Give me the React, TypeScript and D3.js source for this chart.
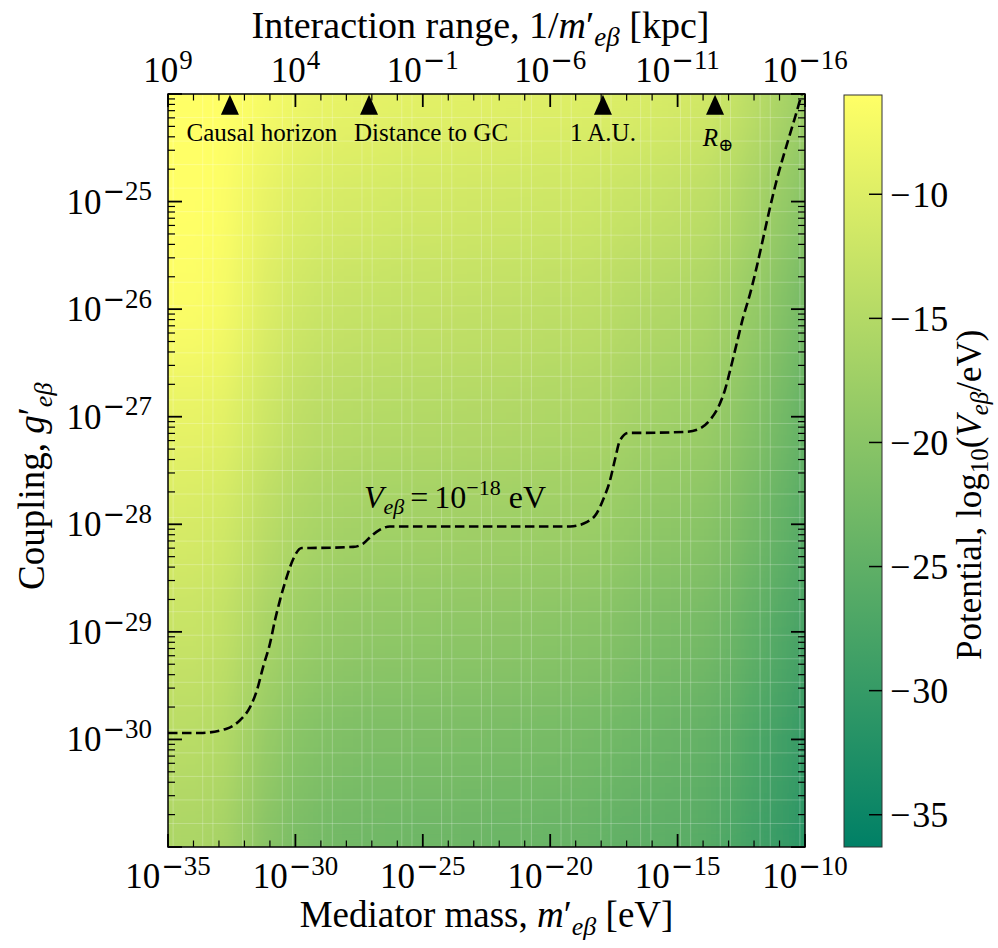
import React from "react";
import * as d3 from "d3";

// heat map grid: columns = log10 mediator mass [eV], rows = log10 coupling
const massExp = [-35, -34, -33, -32, -31, -30, -29, -28, -27, -26, -25, -24, -23, -22, -21, -20, -19, -18, -17, -16, -15, -14, -13, -12, -11, -10];
const couplingExp = [-24, -25, -26, -27, -28, -29, -30, -31];

// log10(V / eV), one row per coupling decade
const row24 = [-6.0, -6.0, -6.0, -6.3, -7.2, -8.0, -8.5, -8.8, -9.0, -9.2, -9.3, -9.4, -9.5, -9.6, -9.7, -9.8, -9.9, -10.0, -10.3, -10.6, -10.9, -11.4, -12.5, -14.1, -15.9, -17.8];
const row25 = [-6.0, -6.0, -6.2, -7.6, -9.0, -10.0, -10.6, -10.9, -11.1, -11.3, -11.4, -11.5, -11.6, -11.7, -11.8, -11.9, -12.0, -12.2, -12.6, -13.0, -13.3, -13.8, -14.9, -16.5, -18.3, -20.1];
const row26 = [-6.4, -6.5, -6.9, -8.6, -10.4, -11.7, -12.4, -12.8, -13.0, -13.1, -13.2, -13.3, -13.4, -13.5, -13.6, -13.8, -13.9, -14.1, -14.7, -15.2, -15.5, -16.0, -17.1, -18.7, -20.5, -22.4];
const row27 = [-8.8, -8.9, -9.2, -10.6, -12.2, -13.5, -14.2, -14.6, -14.8, -14.9, -15.0, -15.1, -15.2, -15.3, -15.4, -15.6, -15.7, -15.9, -16.6, -17.2, -17.5, -17.9, -19.0, -20.6, -22.4, -24.3];
const row28 = [-10.8, -10.9, -11.3, -12.7, -14.3, -15.6, -16.3, -16.7, -16.9, -17.0, -17.1, -17.2, -17.3, -17.4, -17.5, -17.7, -17.8, -18.0, -18.7, -19.3, -19.6, -20.0, -21.0, -22.6, -24.3, -26.0];
const row29 = [-12.6, -12.7, -13.2, -14.8, -16.6, -17.9, -18.6, -19.0, -19.2, -19.3, -19.4, -19.5, -19.6, -19.7, -19.8, -20.0, -20.2, -20.4, -21.0, -21.6, -21.9, -22.3, -23.3, -24.8, -26.4, -28.0];
const row30 = [-14.3, -14.4, -14.9, -16.7, -18.7, -20.1, -20.8, -21.2, -21.4, -21.5, -21.6, -21.7, -21.8, -21.9, -22.0, -22.2, -22.4, -22.7, -23.2, -23.7, -24.0, -24.5, -25.5, -27.0, -28.5, -30.0];
const row31 = [-15.9, -16.0, -16.5, -18.4, -20.4, -21.8, -22.5, -22.9, -23.1, -23.2, -23.3, -23.4, -23.5, -23.6, -23.7, -23.9, -24.1, -24.4, -24.9, -25.3, -25.5, -26.0, -27.0, -28.4, -29.8, -31.2];
const potentialRows = [row24, row25, row26, row27, row28, row29, row30, row31];

// V = 1e-18 eV contour (log10 mass, log10 coupling)
const contourLogMass = [-35.0, -33.74, -32.7, -32.17, -31.78, -31.52, -31.26, -31.0, -30.8, -30.6, -30.34, -30.08, -29.75, -29.43, -27.73, -27.34, -27.07, -26.68, -26.29, -19.22, -18.57, -18.18, -17.92, -17.65, -17.46, -17.26, -16.93, -16.48, -14.64, -14.12, -13.73, -13.4, -13.14, -12.94, -12.68, -12.42, -12.23, -11.11, -10.2, -10.0];
const contourLogCoupling = [-29.94, -29.94, -29.9, -29.82, -29.7, -29.55, -29.32, -29.11, -28.89, -28.7, -28.49, -28.32, -28.22, -28.22, -28.21, -28.18, -28.12, -28.05, -28.02, -28.02, -27.98, -27.9, -27.77, -27.59, -27.4, -27.22, -27.15, -27.15, -27.14, -27.11, -27.03, -26.91, -26.75, -26.57, -26.32, -26.07, -25.92, -24.8, -24.06, -23.89];

// distance markers along the top
const markerNames = ["Causal horizon", "Distance to GC", "1 A.U.", "R"];
const markerLogMass = [-32.57, -27.11, -17.93, -13.53];
const markerLogCoupling = -24.1;

const massMajor = [-35, -30, -25, -20, -15, -10];
const rangeMajor = [9, 4, -1, -6, -11, -16];
const couplingLabelled = [-30, -29, -28, -27, -26, -25];
const colorTicks = [-10, -15, -20, -25, -30, -35];
const colorDomain = [-36.3, -6.0];

const W = 998, H = 948;
const L = 168, R = 805, T = 94, B = 847;
const CB = { x: 844, w: 38, top: 95, bottom: 847 };
const FONT = "'Liberation Serif', 'DejaVu Serif', serif";
const MINUS = "\u2212";

function summer(v: number) {
  const t = Math.max(0, Math.min(1, (v - colorDomain[0]) / (colorDomain[1] - colorDomain[0])));
  return d3.rgb(255 * t, 255 * (0.5 + 0.5 * t), 102).formatHex();
}

// 10^e tick label, math-style wide minus
function Pow({ x, y, e, anchor, fs }: { x: number; y: number; e: number; anchor: string; fs: number }) {
  const sfs = fs * 0.77;
  return (
    <text x={x} y={y} textAnchor={anchor} fontSize={fs}>
      10
      {e < 0 ? (
        <>
          <tspan dy={-fs * 0.38} dx={1} fontSize={sfs} fontFamily="'DejaVu Sans', sans-serif">{MINUS}</tspan>
          <tspan fontSize={sfs}>{Math.abs(e)}</tspan>
        </>
      ) : (
        <tspan dy={-fs * 0.38} dx={1} fontSize={sfs}>{e}</tspan>
      )}
    </text>
  );
}

export default function App() {
  const x = d3.scaleLog().domain([1e-35, 1e-10]).range([L, R]);
  const xTop = d3.scaleLog().domain([1e9, 1e-16]).range([L, R]);
  const y = d3.scaleLog().domain([1e-31, 1e-24]).range([B, T]);
  const c = d3.scaleLinear().domain(colorDomain).range([CB.bottom, CB.top]);

  const cells: { x0: number; x1: number; y0: number; y1: number; fill: string }[] = [];
  couplingExp.forEach((lg, i) => {
    massExp.forEach((lm, j) => {
      cells.push({
        x0: x(Math.pow(10, lm - 0.5)),
        x1: x(Math.pow(10, lm + 0.5)),
        y0: y(Math.pow(10, lg + 0.5)),
        y1: y(Math.pow(10, lg - 0.5)),
        fill: summer(potentialRows[i][j]),
      });
    });
  });

  const cellRects = cells.map((d, k) => (
    <rect key={k} x={d.x0} y={d.y0} width={d.x1 - d.x0 + 0.6} height={d.y1 - d.y0 + 0.6} fill={d.fill} shapeRendering="crispEdges" />
  ));

  // faint mesh seams of the rasterised map
  const seamX: number[] = [];
  for (let k = 0; k <= 16; k++) {
    seamX.push(-35 + (k * 25) / 16 - 0.2, -35 + (k * 25) / 16 + 0.2);
  }
  const seamY: number[] = [];
  for (let k = 0; k <= 32; k++) seamY.push(-24 - (k * 7) / 32);

  const contour = contourLogMass.map((m, i) => [m, contourLogCoupling[i]] as [number, number]);
  const line = d3
    .line<[number, number]>()
    .x((d) => x(Math.pow(10, d[0])))
    .y((d) => y(Math.pow(10, d[1])))
    .curve(d3.curveMonotoneX);

  const xMinor = d3.range(-35, -9).filter((e) => !massMajor.includes(e));
  const yMinor: number[] = [];
  for (let d = -31; d < -24; d++) for (let k = 2; k <= 9; k++) yMinor.push(k * Math.pow(10, d));
  const yMajor = d3.range(-31, -23);

  const my = y(Math.pow(10, markerLogCoupling));
  const labelDx = [32, 62, 0, 3];

  return (
    <svg width={W} height={H} style={{ position: "absolute", left: 0, top: 0, display: "block" }} fontFamily={FONT}>
      <defs>
        <clipPath id="plot">
          <rect x={L} y={T} width={R - L} height={B - T} />
        </clipPath>
        <filter id="smooth" filterUnits="userSpaceOnUse" x={L - 60} y={T - 120} width={R - L + 120} height={B - T + 240}>
          <feGaussianBlur stdDeviation="9 36" />
        </filter>
        <linearGradient id="cbar" x1="0" y1="1" x2="0" y2="0">
          <stop offset="0" stopColor={summer(colorDomain[0])} />
          <stop offset="1" stopColor={summer(colorDomain[1])} />
        </linearGradient>
      </defs>

      <g clipPath="url(#plot)">
        <g>{cellRects}</g>
        <g filter="url(#smooth)">{cellRects}</g>
        <g stroke="#fff" strokeOpacity={0.24} strokeWidth={1}>
          {seamX.map((e, k) => (
            <line key={"sx" + k} x1={x(Math.pow(10, e))} x2={x(Math.pow(10, e))} y1={T} y2={B} />
          ))}
          {seamY.map((e, k) => (
            <line key={"sy" + k} x1={L} x2={R} y1={y(Math.pow(10, e))} y2={y(Math.pow(10, e))} />
          ))}
        </g>
        <path d={line(contour) || ""} fill="none" stroke="#000" strokeWidth={2.6} strokeDasharray="9.5,4.5" />
      </g>

      {/* ticks */}
      <g stroke="#000">
        {massMajor.map((e) => (
          <g key={"xm" + e} strokeWidth={1.8}>
            <line x1={x(Math.pow(10, e))} x2={x(Math.pow(10, e))} y1={B} y2={B - 13} />
            <line x1={x(Math.pow(10, e))} x2={x(Math.pow(10, e))} y1={T} y2={T + 13} />
          </g>
        ))}
        {xMinor.map((e) => (
          <g key={"xn" + e} strokeWidth={1.2}>
            <line x1={x(Math.pow(10, e))} x2={x(Math.pow(10, e))} y1={B} y2={B - 6.5} />
            <line x1={x(Math.pow(10, e))} x2={x(Math.pow(10, e))} y1={T} y2={T + 6.5} />
          </g>
        ))}
        {yMajor.map((e) => (
          <g key={"ym" + e} strokeWidth={1.8}>
            <line x1={L} x2={L + 14} y1={y(Math.pow(10, e))} y2={y(Math.pow(10, e))} />
            <line x1={R} x2={R - 14} y1={y(Math.pow(10, e))} y2={y(Math.pow(10, e))} />
          </g>
        ))}
        {yMinor.map((v, k) => (
          <g key={"yn" + k} strokeWidth={1.2}>
            <line x1={L} x2={L + 7} y1={y(v)} y2={y(v)} />
            <line x1={R} x2={R - 7} y1={y(v)} y2={y(v)} />
          </g>
        ))}
      </g>
      <rect x={L} y={T} width={R - L} height={B - T} fill="none" stroke="#000" strokeWidth={1.5} />

      {/* markers */}
      {markerLogMass.map((m, i) => {
        const mx = x(Math.pow(10, m));
        return (
          <g key={"mk" + i}>
            <path d={`M${mx},${my - 10}L${mx + 9},${my + 10}L${mx - 9},${my + 10}Z`} fill="#000" />
            {i < 3 ? (
              <text x={mx + labelDx[i]} y={141} textAnchor="middle" fontSize={25}>
                {markerNames[i]}
              </text>
            ) : (
              <text x={mx + labelDx[i]} y={146} textAnchor="middle" fontSize={25}>
                <tspan fontStyle="italic">{markerNames[i]}</tspan>
                <tspan fontSize={18} dy={5}>⊕</tspan>
              </text>
            )}
          </g>
        );
      })}

      {/* contour label */}
      <text x={364} y={508} fontSize={32}>
        <tspan fontStyle="italic">V</tspan>
        <tspan fontStyle="italic" fontSize={22} dy={6}>eβ</tspan>
        <tspan dy={-6} dx={6}>=</tspan>
        <tspan dx={6}>10</tspan>
        <tspan fontSize={22} dy={-13}>{MINUS}18</tspan>
        <tspan dy={13}> eV</tspan>
      </text>

      {/* tick labels */}
      {massMajor.map((e) => (
        <Pow key={"bl" + e} x={x(Math.pow(10, e))} y={888} e={e} anchor="middle" fs={35} />
      ))}
      {rangeMajor.map((e) => (
        <Pow key={"tl" + e} x={xTop(Math.pow(10, e))} y={82} e={e} anchor="middle" fs={35} />
      ))}
      {couplingLabelled.map((e) => (
        <Pow key={"ll" + e} x={152} y={y(Math.pow(10, e)) + 12} e={e} anchor="end" fs={35} />
      ))}

      {/* axis titles */}
      <text x={(L + R) / 2} y={927} textAnchor="middle" fontSize={37}>
        Mediator mass, <tspan fontStyle="italic">m</tspan>′
        <tspan fontStyle="italic" fontSize={26} dy={8}>eβ</tspan>
        <tspan dy={-8}> [eV]</tspan>
      </text>
      <text x={(L + R) / 2 - 6} y={38} textAnchor="middle" fontSize={38}>
        Interaction range, 1/<tspan fontStyle="italic">m</tspan>′
        <tspan fontStyle="italic" fontSize={27} dy={8}>eβ</tspan>
        <tspan dy={-8}> [kpc]</tspan>
      </text>
      <text transform={`translate(44,590) rotate(-90)`} fontSize={37}>
        Coupling, <tspan fontStyle="italic">g</tspan>′
        <tspan fontStyle="italic" fontSize={26} dy={8}>eβ</tspan>
      </text>

      {/* colour bar */}
      <rect x={CB.x} y={CB.top} width={CB.w} height={CB.bottom - CB.top} fill="url(#cbar)" stroke="#333" strokeWidth={1} />
      {colorTicks.map((v) => (
        <g key={"ct" + v}>
          <line x1={CB.x + CB.w - 13} x2={CB.x + CB.w} y1={c(v)} y2={c(v)} stroke="#000" strokeWidth={1.5} />
          <text x={890} y={c(v) + 12.5} fontSize={36}>
            {MINUS}
            <tspan dx={2}>{Math.abs(v)}</tspan>
          </text>
        </g>
      ))}
      <text transform={`translate(981,660) rotate(-90)`} fontSize={35}>
        Potential, log
        <tspan fontSize={25} dy={7}>10</tspan>
        <tspan dy={-7}>(</tspan>
        <tspan fontStyle="italic">V</tspan>
        <tspan fontStyle="italic" fontSize={25} dy={7}>eβ</tspan>
        <tspan dy={-7}>/eV)</tspan>
      </text>
    </svg>
  );
}
